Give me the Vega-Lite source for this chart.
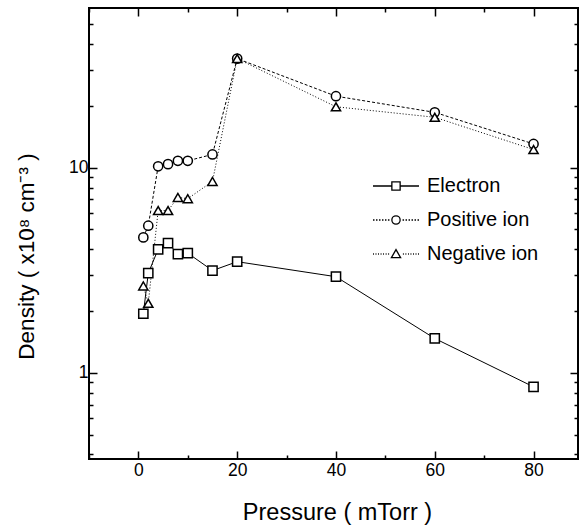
{
  "$schema": "https://vega.github.io/schema/vega-lite/v6.json",
  "width": 489,
  "height": 451,
  "autosize": {"type": "none"},
  "padding": {"left": 89, "top": 8, "right": 3, "bottom": 70},
  "background": "white",
  "config": {
    "view": {"stroke": "black", "strokeWidth": 2},
    "font": "Liberation Sans",
    "axis": {
      "grid": false,
      "domain": false,
      "tickColor": "black",
      "tickWidth": 1.5,
      "labelColor": "black",
      "labelFont": "Liberation Sans",
      "labelFontSize": 17.5,
      "titleFont": "Liberation Sans",
      "titleFontSize": 22.5,
      "titleFontWeight": "normal",
      "titleColor": "black"
    },
    "legend": {"padding": 0}
  },
  "data": {
    "values": [
      {"series": "Electron", "p": 1, "d": 1.94},
      {"series": "Electron", "p": 2, "d": 3.06},
      {"series": "Electron", "p": 4, "d": 4.0},
      {"series": "Electron", "p": 6, "d": 4.29},
      {"series": "Electron", "p": 8, "d": 3.79},
      {"series": "Electron", "p": 10, "d": 3.83},
      {"series": "Electron", "p": 15, "d": 3.15},
      {"series": "Electron", "p": 20, "d": 3.48},
      {"series": "Electron", "p": 40, "d": 2.94},
      {"series": "Electron", "p": 60, "d": 1.47},
      {"series": "Electron", "p": 80, "d": 0.854},
      {"series": "Positive ion", "p": 1, "d": 4.57},
      {"series": "Positive ion", "p": 2, "d": 5.21},
      {"series": "Positive ion", "p": 4, "d": 10.15},
      {"series": "Positive ion", "p": 6, "d": 10.4},
      {"series": "Positive ion", "p": 8, "d": 10.8},
      {"series": "Positive ion", "p": 10, "d": 10.8},
      {"series": "Positive ion", "p": 15, "d": 11.6},
      {"series": "Positive ion", "p": 20, "d": 34.0},
      {"series": "Positive ion", "p": 40, "d": 22.3},
      {"series": "Positive ion", "p": 60, "d": 18.6},
      {"series": "Positive ion", "p": 80, "d": 13.05},
      {"series": "Negative ion", "p": 1, "d": 2.65},
      {"series": "Negative ion", "p": 2, "d": 2.18},
      {"series": "Negative ion", "p": 4, "d": 6.18},
      {"series": "Negative ion", "p": 6, "d": 6.18},
      {"series": "Negative ion", "p": 8, "d": 7.16},
      {"series": "Negative ion", "p": 10, "d": 7.06},
      {"series": "Negative ion", "p": 15, "d": 8.57},
      {"series": "Negative ion", "p": 20, "d": 34.0},
      {"series": "Negative ion", "p": 40, "d": 19.8},
      {"series": "Negative ion", "p": 60, "d": 17.6},
      {"series": "Negative ion", "p": 80, "d": 12.25}
    ]
  },
  "resolve": {
    "axis": {"x": "independent", "y": "independent"},
    "scale": {"x": "shared", "y": "shared"}
  },
  "layer": [
    {
      "transform": [{"filter": "datum.series === 'Electron'"}],
      "mark": {"type": "line", "color": "black", "strokeWidth": 1},
      "encoding": {
        "x": {"field": "p", "type": "quantitative", "scale": {"domain": [-10, 89], "nice": false, "zero": false},
          "axis": {"orient": "bottom", "values": [0, 20, 40, 60, 80], "tickSize": -8, "labelPadding": 10, "title": "Pressure ( mTorr )", "titleFontSize": 23.5, "titleX": 248, "titleY": 60, "titleBaseline": "alphabetic"}},
        "y": {"field": "d", "type": "quantitative", "scale": {"type": "log", "domain": [0.38, 60], "nice": false},
          "axis": {"orient": "left", "values": [1, 10], "format": "~g", "tickSize": -8, "labelPadding": 9, "title": "Density ( x10⁸ cm⁻³ )", "titleX": -56, "titleY": 248, "titleBaseline": "alphabetic"}}
      }
    },
    {
      "transform": [{"filter": "datum.series === 'Positive ion'"}],
      "mark": {"type": "line", "color": "black", "strokeWidth": 1, "strokeDash": [3, 2]},
      "encoding": {
        "x": {"field": "p", "type": "quantitative",
          "axis": {"orient": "top", "values": [0, 20, 40, 60, 80], "tickSize": -8, "labels": false, "title": null}},
        "y": {"field": "d", "type": "quantitative",
          "axis": {"orient": "right", "values": [1, 10], "tickSize": -8, "labels": false, "title": null}}
      }
    },
    {
      "transform": [{"filter": "datum.series === 'Negative ion'"}],
      "mark": {"type": "line", "color": "black", "strokeWidth": 1, "strokeDash": [1, 2]},
      "encoding": {
        "x": {"field": "p", "type": "quantitative",
          "axis": {"orient": "bottom", "values": [-10, 10, 30, 50, 70], "tickSize": -4, "labels": false, "title": null}},
        "y": {"field": "d", "type": "quantitative",
          "axis": {"orient": "left", "values": [0.4, 0.5, 0.6, 0.7, 0.8, 0.9, 2, 3, 4, 5, 6, 7, 8, 9, 20, 30, 40, 50], "tickSize": -4, "labels": false, "title": null}}
      }
    },
    {
      "transform": [{"filter": "datum.series === 'Electron'"}],
      "mark": {"type": "point", "shape": "square", "filled": true, "fill": "white", "stroke": "black", "strokeWidth": 1.5, "size": 85, "opacity": 1},
      "encoding": {
        "x": {"field": "p", "type": "quantitative",
          "axis": {"orient": "top", "values": [-10, 10, 30, 50, 70], "tickSize": -4, "labels": false, "title": null}},
        "y": {"field": "d", "type": "quantitative",
          "axis": {"orient": "right", "values": [0.4, 0.5, 0.6, 0.7, 0.8, 0.9, 2, 3, 4, 5, 6, 7, 8, 9, 20, 30, 40, 50], "tickSize": -4, "labels": false, "title": null}}
      }
    },
    {
      "transform": [{"filter": "datum.series === 'Positive ion'"}],
      "mark": {"type": "point", "shape": "circle", "filled": true, "fill": "white", "stroke": "black", "strokeWidth": 1.5, "size": 85, "opacity": 1},
      "encoding": {
        "x": {"field": "p", "type": "quantitative", "axis": null},
        "y": {"field": "d", "type": "quantitative", "axis": null}
      }
    },
    {
      "transform": [{"filter": "datum.series === 'Negative ion'"}],
      "mark": {"type": "point", "shape": "triangle-up", "filled": true, "fill": "white", "stroke": "black", "strokeWidth": 1.5, "size": 85, "opacity": 1},
      "encoding": {
        "x": {"field": "p", "type": "quantitative", "axis": null},
        "y": {"field": "d", "type": "quantitative", "axis": null}
      }
    },
    {
      "transform": [{"filter": "false"}],
      "mark": {"type": "point", "filled": false, "color": "black", "strokeWidth": 1.3, "opacity": 1},
      "encoding": {
        "x": {"field": "p", "type": "quantitative", "axis": null},
        "y": {"field": "d", "type": "quantitative", "axis": null},
        "shape": {"field": "series", "type": "nominal",
          "scale": {"domain": ["Electron", "Positive ion", "Negative ion"],
            "range": [
              "M-1,0H-0.18M0.18,0H1M-0.18,-0.18H0.18V0.18H-0.18Z",
              "M-1,0H-0.935M-0.87,0H-0.805M-0.74,0H-0.675M-0.61,0H-0.545M-0.48,0H-0.415M-0.35,0H-0.285M0.285,0H0.35M0.415,0H0.48M0.545,0H0.61M0.675,0H0.74M0.805,0H0.87M0.935,0H1M0.18,0A0.18,0.18 0 1,1 -0.18,0A0.18,0.18 0 1,1 0.18,0Z",
              "M-1,0H-0.96M-0.89,0H-0.85M-0.78,0H-0.74M-0.67,0H-0.63M-0.56,0H-0.52M-0.45,0H-0.41M-0.34,0H-0.30M0.30,0H0.34M0.41,0H0.45M0.52,0H0.56M0.63,0H0.67M0.74,0H0.78M0.85,0H0.89M0.96,0H1M0,-0.19L0.2,0.16L-0.2,0.16Z"
            ]},
          "legend": {
            "orient": "none", "legendX": 283, "legendY": 154, "title": null,
            "symbolSize": 2116, "symbolStrokeWidth": 1.3, "symbolStrokeColor": "black", "symbolFillColor": "transparent",
            "labelFontSize": 20, "labelFont": "Liberation Sans", "labelColor": "black", "labelOffset": 7, "rowPadding": -0.5
          }
        }
      }
    }
  ]
}
